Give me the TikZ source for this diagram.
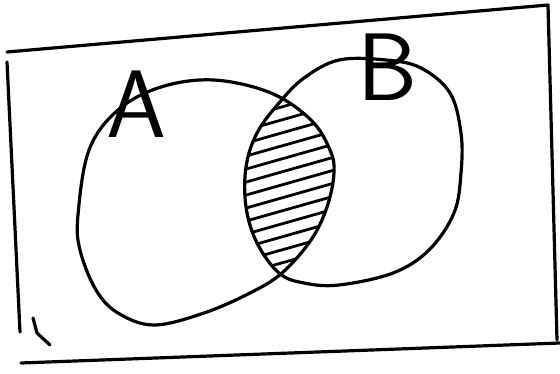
\documentclass[tikz,border=0pt]{standalone}
\usepackage{tikz}
\usetikzlibrary{positioning}

\tikzset{
  pen/.style={line width=3.2pt, line cap=round, line join=round},
  hatchpen/.style={line width=2.8pt, line cap=round},
  setlabel/.style={font=\sffamily\fontsize{96}{96}\selectfont, inner sep=0pt},
  setA/.style={insert path={plot[smooth cycle, tension=0.6] coordinates {
    (80,250) (78,215) (89,150) (118,110) (161,87) (214,80) (271,93)
    (311,120) (330,150) (334,173) (327,207) (311,240) (282,273)
    (250,293) (204,313) (154,325) (118,313) (96,290)}}},
  setB/.style={insert path={plot[smooth cycle, tension=0.6] coordinates {
    (339,60) (386,60) (421,68) (450,93) (461,133) (461,173) (454,213)
    (429,250) (393,273) (339,285) (304,283) (279,273) (257,243)
    (246,207) (246,167) (257,133) (279,103) (304,78)}}}
}

\begin{document}
\begin{tikzpicture}[x=1pt, y=-1pt]
  \useasboundingbox (0,0) rectangle (560,373);
  % frame of the universe
  \coordinate (tl) at (7,52);
  \coordinate (tr) at (548,5);
  \coordinate (br) at (557,340);
  \coordinate (bl) at (21,363);
  \coordinate (be) at (560,343);
  \coordinate (lt) at (7,62);
  \coordinate (lb) at (20,332);
  \draw[pen] (tl) -- (tr) -- (br);
  \draw[pen] (bl) -- (be);
  \draw[pen] (lt) -- (lb);
  % small corner mark
  \draw[pen] (33,318) -- (37,333) -- (50,345);

  % intersection hatching
  \begin{scope}
    \clip[setA];
    \clip[setB];
    \foreach \y in {94,107,...,294}{
      \draw[hatchpen] (225,\y+16) -- (345,\y-18);
    }
  \end{scope}

  % the two sets
  \draw[pen, setA];
  \draw[pen, setB];

  % labels
  \node[setlabel] (labA) at (136,104) {A};
  \node[setlabel] (labB) at (388,67) {B};
\end{tikzpicture}
\end{document}
